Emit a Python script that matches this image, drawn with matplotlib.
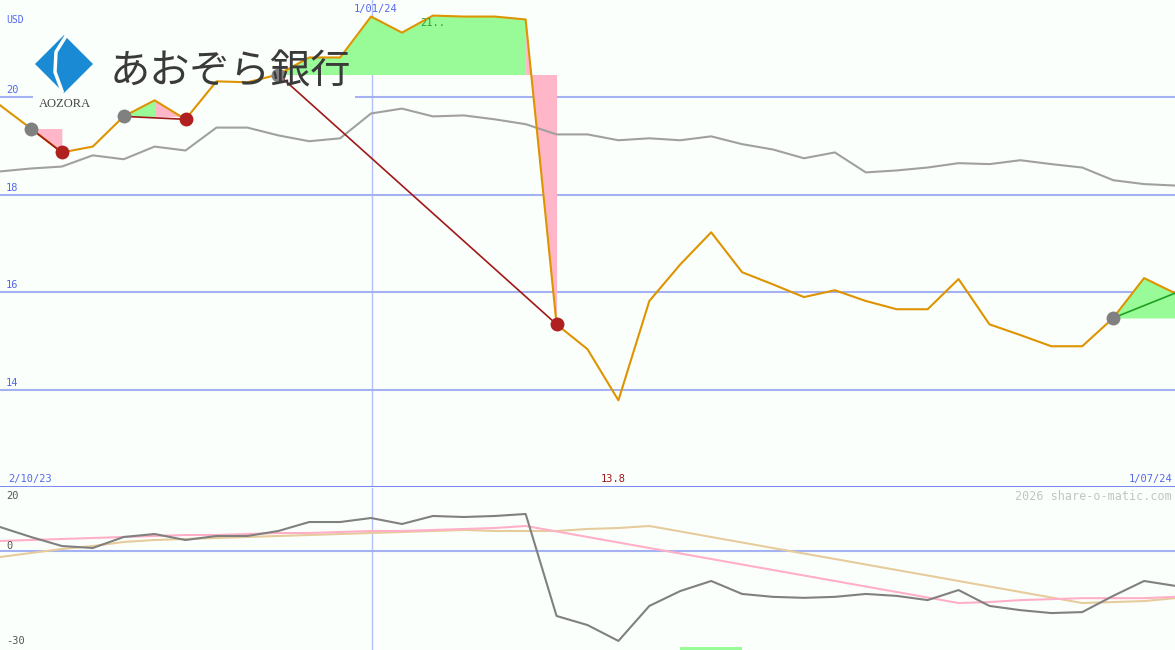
import matplotlib
matplotlib.use('Agg')
import matplotlib.pyplot as plt
from matplotlib.patches import Polygon, Rectangle

# weekly close, USD
price = [19.84, 19.36, 18.87, 18.99, 19.61, 19.94, 19.55, 20.33, 20.31, 20.47,
         20.82, 20.82, 21.66, 21.33, 21.68, 21.66, 21.66, 21.60, 15.34, 14.83,
         13.78, 15.82, 16.57, 17.23, 16.41, 16.16, 15.90, 16.04, 15.82, 15.65,
         15.65, 16.27, 15.34, 15.12, 14.89, 14.89, 15.47, 16.29, 15.98]
# moving average (grey)
avg = [18.48, 18.54, 18.58, 18.81, 18.73, 18.99, 18.91, 19.38, 19.38, 19.22,
       19.10, 19.16, 19.67, 19.77, 19.61, 19.63, 19.55, 19.45, 19.24, 19.24,
       19.12, 19.16, 19.12, 19.20, 19.04, 18.93, 18.75, 18.87, 18.46, 18.50,
       18.56, 18.65, 18.63, 18.71, 18.63, 18.56, 18.30, 18.22, 18.19]
# lower panel indicators
momentum = [7.96, 4.88, 2.10, 1.48, 4.88, 5.80, 3.95, 5.19, 5.19, 6.73,
            9.50, 9.50, 10.74, 8.89, 11.36, 11.05, 11.36, 11.98, -19.5, -22.3,
            -27.2, -16.4, -11.8, -8.7, -12.7, -13.6, -13.9, -13.6, -12.7, -13.3,
            -14.6, -11.5, -16.4, -17.7, -18.6, -18.3, -13.3, -8.7, -10.2]
pink_line = [3.64, 3.95, 4.26, 4.57, 4.88, 5.19, 5.49, 5.49, 5.80, 6.11,
             6.11, 6.42, 6.73, 6.73, 7.04, 7.35, 7.65, 8.27, 6.60, 4.88,
             3.18, 1.48, -0.22, -1.91, -3.61, -5.31, -7.00, -8.70, -10.4, -12.1,
             -13.8, -15.5, -15.2, -14.6, -14.3, -14.0, -14.0, -14.0, -13.6]
tan_line = [-1.30, -0.06, 1.17, 2.10, 3.33, 3.95, 4.26, 4.57, 4.88, 5.19,
            5.49, 5.80, 6.11, 6.42, 6.73, 7.04, 6.73, 6.73, 6.73, 7.35,
            7.65, 8.27, 6.60, 4.88, 3.18, 1.48, -0.22, -1.91, -3.61, -5.31,
            -7.00, -8.70, -10.4, -12.1, -13.8, -15.5, -15.2, -14.9, -14.0]

# trades: entry, point where gain turns to loss, exit
entry_idx = [1, 4, 9, 36]
turn_idx = [1, 5, 17, 38]
exit_idx = [2, 6, 18, 38]
trade_open = [False, False, False, True]

signal_bar = [22, 24]
price_ticks = [14, 16, 18, 20]
jan_pos = 12.03

x = list(range(len(price)))

bg = '#fbfffb'
blue_txt = '#5468f0'
grid_c = '#a4b2f4'
orange = '#dd9400'
green_f = '#98fb98'
pink_f = '#ffb6c8'

W, H = 1175, 650
fig = plt.figure(figsize=(W / 100, H / 100), dpi=100, facecolor=bg)


def fx(px):
    return px / W


def fy(py):
    return 1 - py / H


ax = fig.add_axes([0, fy(487), 1, 487 / H])
ax2 = fig.add_axes([0, 0, 1, fy(488)])
for a in (ax, ax2):
    a.set_facecolor(bg)
    a.set_xlim(0, len(price) - 1)
    a.set_xticks([])
    a.set_yticks([])
    for s in a.spines.values():
        s.set_visible(False)
    a.axvline(jan_pos, color='#b4c0f8', lw=1, zorder=1)

ax.set_ylim(12, 22)
ax2.set_ylim(-30, 20)

# upper panel grid
for t in price_ticks:
    ax.axhline(t, color=grid_c, lw=1.5, zorder=1)
    ax.text(0.2, t + 0.04, str(t), color=blue_txt, fontsize=7.5,
            family='DejaVu Sans Mono', va='bottom', ha='left', zorder=6)
ax.axhline(12, color='#6c7cf0', lw=2, zorder=6)

# logo
ax.add_patch(Rectangle((fx(33), fy(110)), fx(355) - fx(33), fy(28) - fy(110),
                       transform=fig.transFigure, facecolor=bg, edgecolor='none', zorder=2))
diamond = [(fx(64), fy(35)), (fx(93), fy(64)), (fx(64), fy(93)), (fx(35), fy(64))]
ax.add_patch(Polygon(diamond, closed=True, transform=fig.transFigure,
                     facecolor='#1a8ad4', edgecolor='none', zorder=2.1))
ax.plot([fx(66), fx(56), fx(55), fx(62)], [fy(36), fy(52), fy(72), fy(91)],
        transform=fig.transFigure, color=bg, lw=2.5, zorder=2.2)
fig.text(fx(65), fy(104), 'AOZORA', family='Liberation Serif', fontsize=9,
         color='#444444', ha='center', va='center', zorder=2.3)
fig.text(fx(110), fy(72), 'あおぞら銀行', family=['Noto Sans CJK JP', 'DejaVu Sans'],
         fontsize=29, color='#3a3a3a', ha='left', va='center', zorder=2.3)

# trade fills and lines
for e, t, b, op in zip(entry_idx, turn_idx, exit_idx, trade_open):
    lvl = price[e]
    if t > e:
        ax.fill_between(x[e:t + 1], price[e:t + 1], lvl, color=green_f, lw=0, zorder=3)
    if b > t:
        ax.fill_between(x[t:b + 1], price[t:b + 1], lvl, color=pink_f, lw=0, zorder=3)
    ax.plot([x[e], x[b]], [price[e], price[b]], color='#20a020' if op else '#a01818',
            lw=1.2, zorder=4.5)

ax.plot(x, avg, color='#a0a0a0', lw=1.5, zorder=4)
ax.plot(x, price, color=orange, lw=1.5, zorder=4.2)

ax.plot([x[i] for i in entry_idx], [price[i] for i in entry_idx], 'o',
        color='#808080', ms=10, mec='none', zorder=5)
closed = [b for b, op in zip(exit_idx, trade_open) if not op]
ax.plot([x[i] for i in closed], [price[i] for i in closed], 'o',
        color='#b02020', ms=10, mec='none', zorder=5)

# upper labels
fig.text(fx(6), fy(20), 'USD', color=blue_txt, fontsize=7, family='DejaVu Sans Mono', va='center')
fig.text(fx(376), fy(9), '1/01/24', color=blue_txt, fontsize=7.5,
         family='DejaVu Sans Mono', ha='center', va='center')
imax = price.index(max(price))
ax.text(imax, max(price) - 0.04, '21..', color='#30a030', fontsize=7.5,
        family='DejaVu Sans Mono', ha='center', va='top', zorder=6)
fig.text(fx(8), fy(479), '2/10/23', color=blue_txt, fontsize=7.5,
         family='DejaVu Sans Mono', ha='left', va='center')
fig.text(fx(1172), fy(479), '1/07/24', color=blue_txt, fontsize=7.5,
         family='DejaVu Sans Mono', ha='right', va='center')
fig.text(fx(613), fy(479), '%.1f' % min(price), color='#a01818', fontsize=7.5,
         family='DejaVu Sans Mono', ha='center', va='center')

# lower panel
ax2.axhline(0.6, color=grid_c, lw=1.5, zorder=1)
ax2.plot(x, tan_line, color='#e6cc9c', lw=1.5, zorder=3)
ax2.plot(x, pink_line, color='#ffb0c8', lw=1.5, zorder=3.1)
ax2.plot(x, momentum, color='#808080', lw=1.5, zorder=3.2)
ax2.fill_between(signal_bar, -30, -29, color=green_f, lw=0, zorder=2)

fig.text(fx(6), fy(496), '20', color='#555555', fontsize=7.5, family='DejaVu Sans Mono', va='center')
fig.text(fx(6), fy(546), '0', color='#555555', fontsize=7.5, family='DejaVu Sans Mono', va='center')
fig.text(fx(6), fy(641), '-30', color='#555555', fontsize=7.5, family='DejaVu Sans Mono', va='center')
fig.text(fx(1172), fy(496), '2026 share-o-matic.com', color='#c4c4c4', fontsize=8.5,
         family='DejaVu Sans Mono', ha='right', va='center')

plt.savefig('out.png', dpi=100, facecolor=bg)
